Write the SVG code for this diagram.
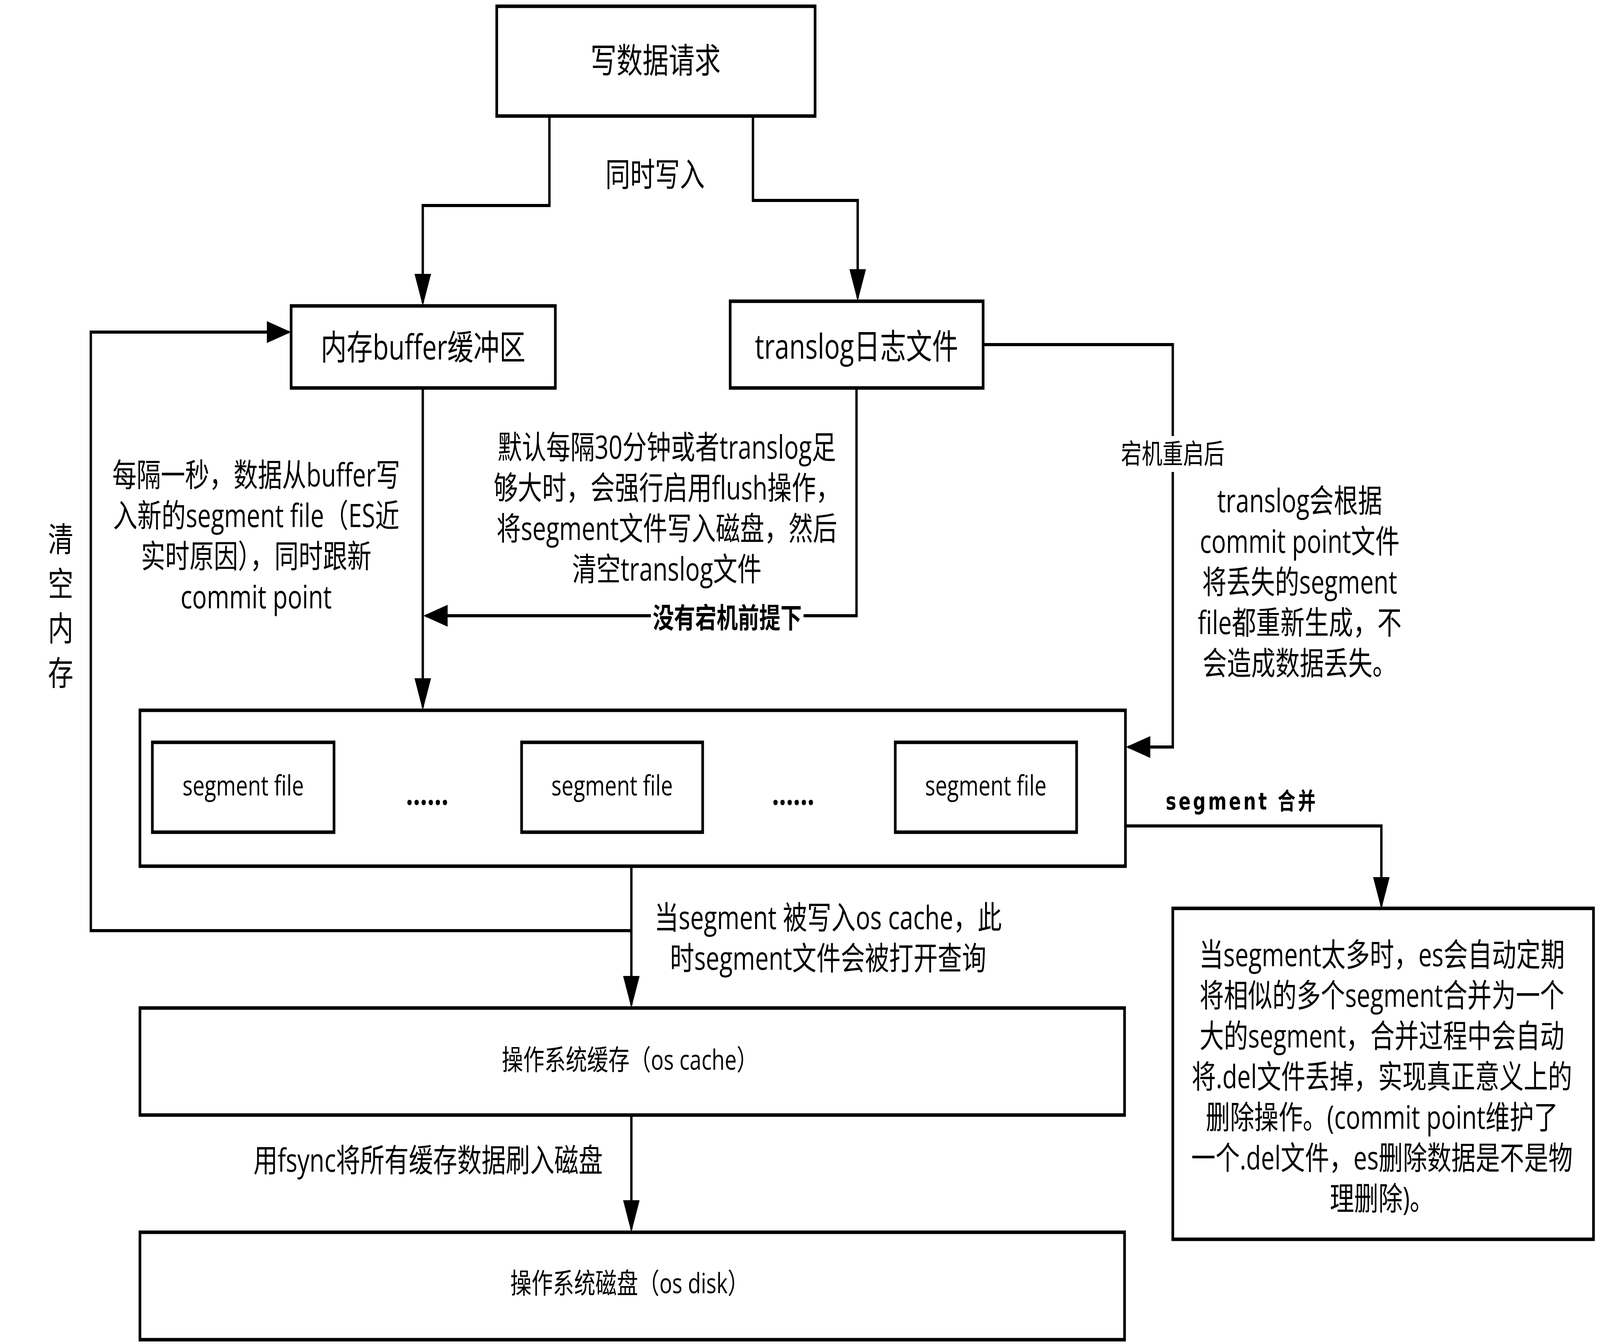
<svg xmlns="http://www.w3.org/2000/svg" width="5408" height="3440" viewBox="0 0 5408 3440" preserveAspectRatio="none">
<style>
svg{width:100vw;height:100vh}
.box{fill:#fff;stroke:#000;stroke-width:9}
.ln{fill:none;stroke:#000;stroke-width:8}
.t{font-family:"Open Sans","Noto Sans CJK SC",sans-serif;fill:#000;text-anchor:middle}
.title{font-size:88px}
.body{font-size:82px}
.small{font-size:70px}
.seg{font-size:72px}
.bold{font-family:"Noto Sans CJK SC",sans-serif;font-weight:bold;font-size:72px;fill:#000;text-anchor:middle}
</style>
<defs>
<marker id="ah" markerUnits="userSpaceOnUse" viewBox="0 0 84 60" markerWidth="84" markerHeight="60" refX="74" refY="28" orient="auto">
<path d="M0,0 L82,28 L0,56 z" fill="#000"/>
</marker>
</defs>
<rect width="5408" height="3440" fill="#fff"/>

<g id="connectors">
<path class="ln" d="M1857,297 V526 H1429 V775" marker-end="url(#ah)"/>
<path class="ln" d="M2545,297 V513 H2899 V763" marker-end="url(#ah)"/>
<path class="ln" d="M1429,993 V1810" marker-end="url(#ah)"/>
<path class="ln" d="M2895,993 V1576 H1439" marker-end="url(#ah)"/>
<path class="ln" d="M3323,882 H3964 V1912 H3814" marker-end="url(#ah)"/>
<path class="ln" d="M2134,2217 V2572" marker-end="url(#ah)"/>
<path class="ln" d="M2134,2382 H307 V850 H976" marker-end="url(#ah)"/>
<path class="ln" d="M2134,2854 V3146" marker-end="url(#ah)"/>
<path class="ln" d="M3804,2114 H4669 V2319" marker-end="url(#ah)"/>
<g id="label-concurrent"><text class="t body" x="2214" y="477" style="font-size:84px">同时写入</text></g>
<g id="label-nocrash">
<rect x="2200" y="1556" width="516" height="40" fill="#fff"/>
<text class="bold" x="2458" y="1607">没有宕机前提下</text>
</g>
<g id="label-restart">
<rect x="3786" y="1116" width="356" height="92" fill="#fff"/>
<text class="t small" x="3964" y="1187">宕机重启后</text>
</g>
<g id="label-merge">
<text x="3940" y="2072" style="font-family:'DejaVu Sans','Noto Sans CJK SC',sans-serif;font-weight:bold;font-size:60px;letter-spacing:8px" fill="#000">segment 合并</text>
</g>
</g>

<g id="node-request">
<rect class="box" x="1679" y="16" width="1076" height="281"/>
<text class="t title" x="2216" y="186">写数据请求</text>
</g>

<g id="node-buffer">
<rect class="box" x="984" y="783" width="893" height="210"/>
<text class="t title" x="1430" y="920">内存buffer缓冲区</text>
</g>

<g id="node-translog">
<rect class="box" x="2468" y="771" width="855" height="222"/>
<text class="t title" x="2895" y="918">translog日志文件</text>
</g>

<g id="note-buffer">
<text class="t body" x="866" y="1245">每隔一秒，数据从buffer写</text>
<text class="t body" x="866" y="1349">入新的segment file（ES近</text>
<text class="t body" x="866" y="1453">实时原因），同时跟新</text>
<text class="t body" x="866" y="1557">commit point</text>
</g>

<g id="note-clear">
<text class="t" style="font-size:86px" x="205" y="1412">清</text>
<text class="t" style="font-size:86px" x="205" y="1526">空</text>
<text class="t" style="font-size:86px" x="205" y="1640">内</text>
<text class="t" style="font-size:86px" x="205" y="1754">存</text>
</g>

<g id="note-flush">
<text class="t body" x="2254" y="1174">默认每隔30分钟或者translog足</text>
<text class="t body" x="2254" y="1278">够大时，会强行启用flush操作，</text>
<text class="t body" x="2254" y="1382">将segment文件写入磁盘，然后</text>
<text class="t body" x="2254" y="1486">清空translog文件</text>
</g>

<g id="note-recover">
<text class="t body" x="4393" y="1311">translog会根据</text>
<text class="t body" x="4393" y="1415">commit point文件</text>
<text class="t body" x="4393" y="1519">将丢失的segment</text>
<text class="t body" x="4393" y="1623">file都重新生成，不</text>
<text class="t body" x="4393" y="1727">会造成数据丢失。</text>
</g>

<g id="node-segments">
<rect class="box" x="473" y="1818" width="3331" height="399"/>
<g id="seg1">
<rect class="box" x="515" y="1900" width="614" height="230"/>
<text class="t seg" x="822" y="2036">segment file</text>
</g>
<text class="t" style="font-size:84px;font-weight:bold" x="1444" y="2060">......</text>
<g id="seg2">
<rect class="box" x="1763" y="1900" width="612" height="230"/>
<text class="t seg" x="2069" y="2036">segment file</text>
</g>
<text class="t" style="font-size:84px;font-weight:bold" x="2681" y="2060">......</text>
<g id="seg3">
<rect class="box" x="3026" y="1900" width="613" height="230"/>
<text class="t seg" x="3332" y="2036">segment file</text>
</g>
</g>

<g id="note-oscache">
<text class="t body" x="2799" y="2378">当segment 被写入os cache，此</text>
<text class="t body" x="2799" y="2482">时segment文件会被打开查询</text>
</g>

<g id="node-oscache">
<rect class="box" x="473" y="2580" width="3328" height="274"/>
<text class="t seg" x="2129" y="2738">操作系统缓存（os cache）</text>
</g>

<g id="note-fsync">
<text class="t body" x="1447" y="2999">用fsync将所有缓存数据刷入磁盘</text>
</g>

<g id="node-osdisk">
<rect class="box" x="473" y="3154" width="3328" height="275"/>
<text class="t seg" x="2128" y="3310">操作系统磁盘（os disk）</text>
</g>

<g id="node-merge">
<rect class="box" x="3964" y="2325" width="1422" height="847"/>
<text class="t body" x="4671" y="2473">当segment太多时，es会自动定期</text>
<text class="t body" x="4671" y="2577">将相似的多个segment合并为一个</text>
<text class="t body" x="4671" y="2681">大的segment，合并过程中会自动</text>
<text class="t body" x="4671" y="2785">将.del文件丢掉，实现真正意义上的</text>
<text class="t body" x="4671" y="2889">删除操作。(commit point维护了</text>
<text class="t body" x="4671" y="2993">一个.del文件，es删除数据是不是物</text>
<text class="t body" x="4671" y="3097">理删除)。</text>
</g>
</svg>
